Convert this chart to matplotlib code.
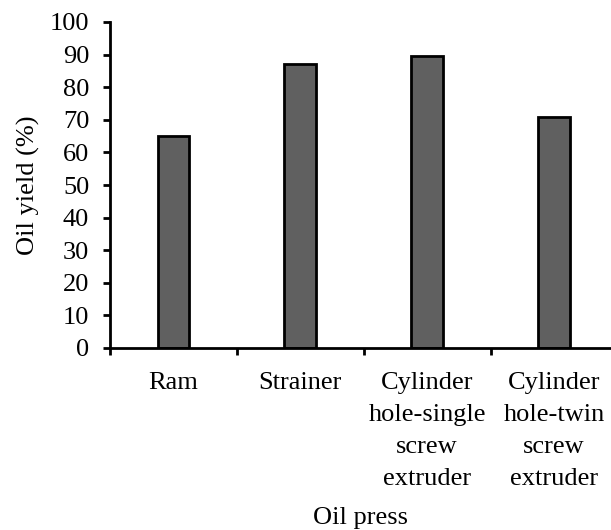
import matplotlib.pyplot as plt

categories = ["Ram", "Strainer", "Cylinder\nhole-single\nscrew\nextruder",
              "Cylinder\nhole-twin\nscrew\nextruder"]
oil_yield = [65.0, 87.2, 89.6, 70.9]
yticks = [0, 10, 20, 30, 40, 50, 60, 70, 80, 90, 100]

plt.rcParams['font.family'] = ['Liberation Serif', 'DejaVu Serif']
plt.rcParams['font.size'] = 19

fig = plt.figure(figsize=(6.11, 5.30), dpi=100)
ax = fig.add_axes([110 / 611, 1 - 348 / 530, 501 / 611, 326 / 530])

x = list(range(len(categories)))
ax.bar(x, oil_yield, width=0.25, color='#606060', edgecolor='black', linewidth=2)

ax.set_ylim(0, 100)
ax.set_xlim(-0.5, 3.45)
ax.set_yticks(yticks)
ax.set_xticks([-0.5, 0.5, 1.5, 2.5])
ax.set_xticklabels([])
ax.set_xticks(x, minor=True)
ax.set_xticklabels(categories, minor=True, linespacing=1.6)
ax.tick_params(axis='x', which='minor', length=0, pad=17)
ax.tick_params(axis='x', which='major', length=5, width=2, direction='out')
ax.tick_params(axis='y', length=5, width=2, direction='out', pad=10)

for s in ['top', 'right']:
    ax.spines[s].set_visible(False)
for s in ['left', 'bottom']:
    ax.spines[s].set_linewidth(2)

ax.set_ylabel('Oil yield (%)', labelpad=7)
ax.set_xlabel('Oil press', labelpad=12)

fig.savefig('out.png', dpi=100)
